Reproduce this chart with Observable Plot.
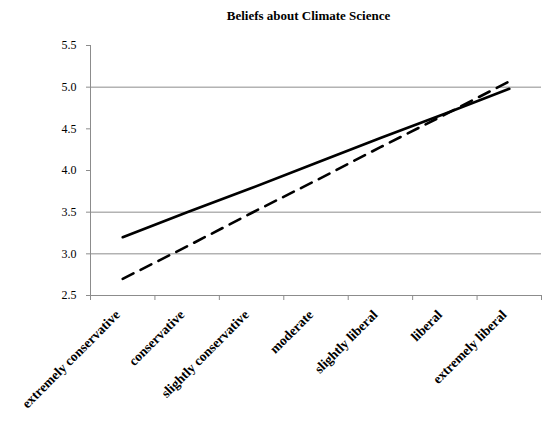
<!DOCTYPE html>
<html>
<head>
<meta charset="utf-8">
<script src="https://cdn.jsdelivr.net/npm/d3@7"></script>
<script src="https://cdn.jsdelivr.net/npm/@observablehq/plot@0.6"></script>
<style>
  html, body { margin: 0; padding: 0; background: #fff; }
  #wrap { width: 543px; height: 422px; position: relative; }
  #title { height: 28px; width: 543px; box-sizing: border-box; padding-left: 74px; padding-top: 9px;
    text-align: center; font: bold 13px "Liberation Serif", serif; color: #000; line-height: 14px; }
  svg { display: block; }
</style>
</head>
<body>
<div id="wrap">
  <div id="title">Beliefs about Climate Science</div>
  <div id="chart"></div>
</div>
<script>
const categories = ["extremely conservative", "conservative", "slightly conservative", "moderate", "slightly liberal", "liberal", "extremely liberal"];
const solidValues = [3.20, 3.50, 3.79, 4.09, 4.39, 4.68, 4.98];
const dashedValues = [2.70, 3.09, 3.49, 3.88, 4.28, 4.67, 5.07];
const yTicks = [2.5, 3.0, 3.5, 4.0, 4.5, 5.0, 5.5];
const gridValues = [3.0, 3.5, 5.0];

const idx = categories.map((c, i) => i + 1);
const solid = categories.map((c, i) => ({x: i + 1, y: solidValues[i]}));
const dashed = categories.map((c, i) => ({x: i + 1, y: dashedValues[i]}));
const boundaries = [...idx.map(i => i - 0.5), categories.length + 0.5];

const chart = Plot.plot({
  width: 543,
  height: 394,
  marginTop: 17,
  marginBottom: 127,
  marginLeft: 90,
  marginRight: 2,
  style: {fontFamily: "Liberation Serif, serif", fontSize: "12px", color: "#000", background: "#fff"},
  x: {type: "linear", domain: [0.5, categories.length + 0.5]},
  y: {domain: [2.5, 5.5]},
  marks: [
    Plot.ruleY(gridValues, {stroke: "#8c8c8c", strokeWidth: 1}),
    Plot.ruleX([0.5], {stroke: "#8c8c8c", strokeWidth: 1}),
    Plot.ruleY([2.5], {stroke: "#8c8c8c", strokeWidth: 1}),
    Plot.axisY({ticks: yTicks, tickFormat: d3.format(".1f"), tickSize: 4, tickPadding: 10, stroke: "#8c8c8c", label: null, fontSize: 12}),
    Plot.axisX({ticks: boundaries, tickFormat: () => "", tickSize: 5, stroke: "#8c8c8c", label: null}),
    Plot.axisX({ticks: idx, tickFormat: d => categories[d - 1], tickSize: 0, tickRotate: -45, tickPadding: 17, dx: -5, label: null, fontSize: 13.5, fontWeight: "bold"}),
    Plot.line(solid, {x: "x", y: "y", stroke: "#000", strokeWidth: 2.6}),
    Plot.line(dashed, {x: "x", y: "y", stroke: "#000", strokeWidth: 2.6, strokeDasharray: "12,8"})
  ]
});
document.getElementById("chart").appendChild(chart);
</script>
</body>
</html>
